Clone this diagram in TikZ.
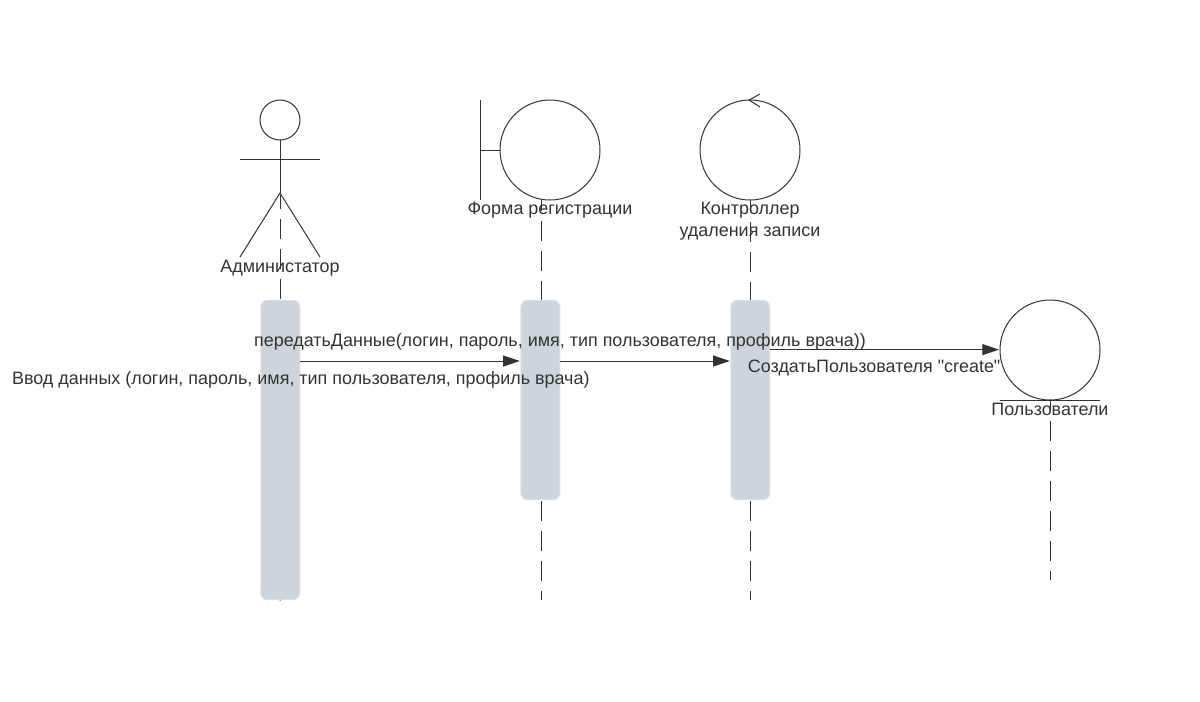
\documentclass[tikz,border=0pt]{standalone}
\usepackage{fontspec}
\newfontfamily\lblfont{Liberation Sans}
\usetikzlibrary{arrows.meta}
\definecolor{ink}{HTML}{333333}
\definecolor{barfill}{HTML}{CED4DC}
\definecolor{barline}{HTML}{DDE1E6}
\tikzset{
  x=.75pt,y=-.75pt,
  ln/.style={draw=ink,line width=.75pt},
  life/.style={ln,dash pattern=on 15pt off 7.5pt},
  circ/.style={circle,ln,minimum size=75pt,inner sep=0pt,outer sep=0pt},
  head/.style={circle,ln,minimum size=30pt,inner sep=0pt,outer sep=0pt},
  bar/.style={draw=barline,line width=.75pt,fill=barfill,rounded corners=5pt,minimum width=29.25pt,inner sep=0pt,outer sep=0pt},
  lbl/.style={text=ink,font=\lblfont\fontsize{13.45}{16.25}\selectfont,inner sep=0pt,align=center},
  msg/.style={ln,shorten >=.75pt,-{Triangle[length=12.5pt,width=8.25pt,fill=ink]}},
}
\begin{document}
\begin{tikzpicture}
\useasboundingbox (0,0) rectangle (1200,701);
% activation bars
\coordinate (endA) at (280,601);
\node[bar,minimum height=224.5pt] (barA) at (280.3,450) {};
\node[bar,minimum height=149.5pt] (barB) at (540.3,400) {};
\node[bar,minimum height=149.5pt] (barC) at (750.3,400) {};
\draw[ln,gray] (barA.south) -- (endA);
% actor
\node[head] (actorhead) at (280,120) {};
\coordinate (hip) at (280,193);
\coordinate (armL) at (240,159);
\coordinate (armR) at (320,159);
\coordinate (footL) at (240,257);
\coordinate (footR) at (320,257);
\draw[ln] (actorhead.south) -- (hip);
\draw[ln] (armL) -- (armR);
\draw[ln] (footL) -- (hip) -- (footR);
% boundary
\node[circ] (form) at (550,150) {};
\coordinate (bndT) at (480,100);
\coordinate (bndB) at (480,200);
\coordinate (bndM) at (480,150);
\draw[ln] (bndT) -- (bndB);
\draw[ln] (bndM) -- (form.west);
% control
\node[circ] (ctrl) at (750,150) {};
\coordinate (cA) at (760,94);
\coordinate (cB) at (749,100);
\coordinate (cC) at (760,107);
\draw[ln] (cA) -- (cB) -- (cC);
% entity
\node[circ] (ent) at (1050,350) {};
\coordinate (entL) at (1000,400);
\coordinate (entR) at (1100,400);
\draw[ln] (entL) -- (entR);
% lifelines
\coordinate (lA0) at (280.7,189);
\coordinate (lA1) at (280.7,300);
\coordinate (lB0) at (541.3,191);
\coordinate (lB1) at (541.3,300);
\coordinate (lB2) at (541.3,498);
\coordinate (lB3) at (541.3,600);
\coordinate (lC0) at (750.7,192);
\coordinate (lC1) at (750.7,300);
\coordinate (lC2) at (750.7,498);
\coordinate (lC3) at (750.7,600);
\coordinate (lD0) at (1050.3,391);
\coordinate (lD1) at (1050.3,580);
\begin{scope}
\clip (0,195) rectangle (1200,701);
\draw[life] (lA0) -- (lA1);
\end{scope}
\begin{scope}
\clip (0,200) rectangle (1200,701);
\draw[life] (lB0) -- (lB1);
\draw[life] (lC0) -- (lC1);
\end{scope}
\draw[life,dash phase=-2pt] (lB2) -- (lB3);
\draw[life,dash phase=-2pt] (lC2) -- (lC3);
\begin{scope}
\clip (0,400) rectangle (1200,701);
\draw[life] (lD0) -- (lD1);
\end{scope}
% messages
\coordinate (m1) at (0,361);
\coordinate (m2) at (0,349.6);
\draw[msg] (barA.east |- m1) -- (barB.west |- m1);
\draw[msg] (barB.east |- m1) -- (barC.west |- m1);
\draw[msg] (barC.east |- m2) -- (ent.west |- m2);
% labels
\node[lbl] (tA) at (280,268.6) {Администатор};
\node[lbl] (tB) at (550,210) {Форма регистрации};
\node[lbl] (tC) at (750,221) {Контроллер\\удаления записи};
\node[lbl] (tD) at (1050,409.5) {Пользователи};
\node[lbl] (t1) at (560,341.4) {передатьДанные(логин, пароль, имя, тип пользователя, профиль врача))};
\node[lbl] (t2) at (300.8,379.5) {Ввод данных (логин, пароль, имя, тип пользователя, профиль врача)};
\node[lbl] (t3) at (874.2,368) {СоздатьПользователя "create"};
\end{tikzpicture}
\end{document}
